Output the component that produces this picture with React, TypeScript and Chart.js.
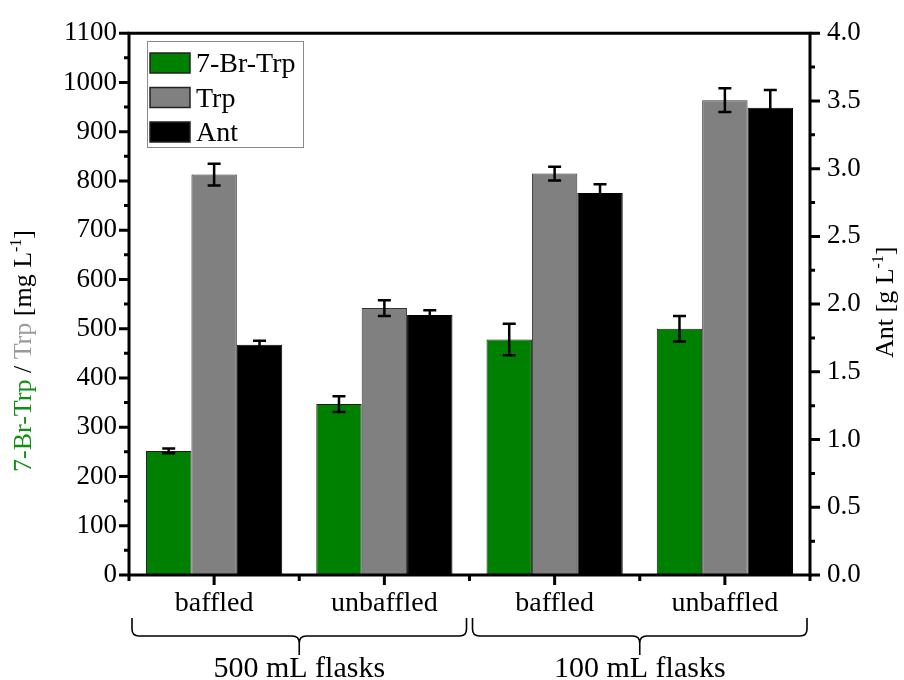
import React, { useEffect, useRef } from "react";
import { Chart, registerables } from "chart.js";

Chart.register(...registerables);

const categories = ["baffled", "unbaffled", "baffled", "unbaffled"];
const groupLabels = ["500 mL flasks", "100 mL flasks"];
const brTrp = [252, 347, 478, 500];
const brTrpErr = [5, 16, 32, 26];
const trp = [813, 542, 815, 964];
const trpErr = [22, 16, 14, 24];
const ant = [1.7, 1.92, 2.82, 3.45];
const antErr = [0.03, 0.035, 0.065, 0.13];
const leftMax = 1100;
const leftStep = 100;
const rightMax = 4;
const rightStep = 0.5;

const FONT = "'Liberation Serif', 'Times New Roman', serif";
const GREEN = "#008000";
const GRAY = "#808080";
const BLACK = "#000000";

const errors = [brTrpErr, trpErr, antErr];

const errorBarPlugin = {
  id: "errorBars",
  afterDatasetsDraw(chart: any) {
    const ctx = chart.ctx;
    ctx.save();
    ctx.strokeStyle = "#000";
    ctx.lineWidth = 2.5;
    chart.data.datasets.forEach((ds: any, di: number) => {
      const meta = chart.getDatasetMeta(di);
      const scale = chart.scales[ds.yAxisID];
      meta.data.forEach((bar: any, i: number) => {
        const v = ds.data[i];
        const e = errors[di][i];
        const yt = scale.getPixelForValue(v + e);
        const yb = scale.getPixelForValue(v - e);
        const x = bar.x;
        ctx.beginPath();
        ctx.moveTo(x, yt);
        ctx.lineTo(x, yb);
        ctx.moveTo(x - 6.5, yt);
        ctx.lineTo(x + 6.5, yt);
        ctx.moveTo(x - 6.5, yb);
        ctx.lineTo(x + 6.5, yb);
        ctx.stroke();
      });
    });
    ctx.restore();
  },
};

function drawRich(ctx: any, parts: any[], x0: number, y0: number, baseSize: number) {
  let x = x0;
  parts.forEach((p) => {
    const size = p.sup ? Math.round(baseSize * 0.6) : baseSize;
    ctx.font = `${size}px ${FONT}`;
    ctx.fillStyle = p.color || "#000";
    ctx.fillText(p.t, x, p.sup ? y0 - baseSize * 0.38 : y0);
    x += ctx.measureText(p.t).width;
  });
}

const decorPlugin = {
  id: "decor",
  afterDraw(chart: any) {
    const ctx = chart.ctx;
    const { left, right, top, bottom } = chart.chartArea;
    const yL = chart.scales.y;
    const yR = chart.scales.y1;
    const xs = chart.scales.x;
    ctx.save();
    ctx.strokeStyle = "#000";
    ctx.lineCap = "butt";
    // frame
    ctx.lineWidth = 3;
    ctx.beginPath();
    ctx.moveTo(left, top);
    ctx.lineTo(right, top);
    ctx.moveTo(left, top - 1.5);
    ctx.lineTo(left, bottom + 1.5);
    ctx.moveTo(right, top - 1.5);
    ctx.lineTo(right, bottom + 1.5);
    ctx.moveTo(left - 1.5, bottom);
    ctx.lineTo(right + 1.5, bottom);
    ctx.stroke();
    // ticks
    ctx.lineWidth = 3;
    ctx.beginPath();
    for (let v = 0; v <= leftMax + 0.001; v += leftStep / 2) {
      const y = yL.getPixelForValue(v);
      const major = Math.abs(v / leftStep - Math.round(v / leftStep)) < 1e-6;
      ctx.moveTo(left, y);
      ctx.lineTo(left - (major ? 10 : 5), y);
    }
    for (let v = 0; v <= rightMax + 0.0001; v += rightStep / 2) {
      const y = yR.getPixelForValue(v);
      const major = Math.abs(v / rightStep - Math.round(v / rightStep)) < 1e-6;
      ctx.moveTo(right, y);
      ctx.lineTo(right + (major ? 10 : 5), y);
    }
    const n = categories.length;
    const cw = (right - left) / n;
    for (let i = 0; i < n; i++) {
      const x = xs.getPixelForValue(i);
      ctx.moveTo(x, bottom);
      ctx.lineTo(x, bottom + 10);
    }
    for (let k = 0; k <= n; k++) {
      const x = left + k * cw;
      ctx.moveTo(x, bottom);
      ctx.lineTo(x, bottom + 6);
    }
    ctx.stroke();

    // braces
    ctx.lineWidth = 1.6;
    const yTop = 618;
    const yH = 636;
    const yStem = 655;
    const r = 7;
    for (let g = 0; g < groupLabels.length; g++) {
      const x0 = left + g * 2 * cw + 3;
      const x1 = left + (g + 1) * 2 * cw - 3;
      const xc = (x0 + x1) / 2;
      ctx.beginPath();
      ctx.moveTo(x0, yTop);
      ctx.lineTo(x0, yH - r);
      ctx.quadraticCurveTo(x0, yH, x0 + r, yH);
      ctx.lineTo(xc - r, yH);
      ctx.quadraticCurveTo(xc, yH, xc, yH + r);
      ctx.lineTo(xc, yStem);
      ctx.moveTo(x1, yTop);
      ctx.lineTo(x1, yH - r);
      ctx.quadraticCurveTo(x1, yH, x1 - r, yH);
      ctx.lineTo(xc + r, yH);
      ctx.quadraticCurveTo(xc, yH, xc, yH + r);
      ctx.stroke();
      ctx.font = `30px ${FONT}`;
      ctx.fillStyle = "#000";
      ctx.textAlign = "center";
      ctx.textBaseline = "alphabetic";
      ctx.fillText(groupLabels[g], xc, 677);
    }

    // legend
    ctx.textAlign = "left";
    ctx.lineWidth = 1;
    ctx.strokeStyle = "#8a8a8a";
    ctx.strokeRect(147.5, 41.5, 156, 106);
    chart.data.datasets.forEach((ds: any, i: number) => {
      const y = 53 + i * 34.5;
      ctx.fillStyle = ds.backgroundColor;
      ctx.fillRect(150, y, 40, 20);
      ctx.strokeStyle = "#222";
      ctx.lineWidth = 1.5;
      ctx.strokeRect(150, y, 40, 20);
      ctx.fillStyle = "#000";
      ctx.font = `28px ${FONT}`;
      ctx.textBaseline = "alphabetic";
      ctx.fillText(ds.label, 196, y + 19);
    });

    // left axis title
    ctx.save();
    ctx.translate(31, 472);
    ctx.rotate(-Math.PI / 2);
    ctx.textBaseline = "alphabetic";
    ctx.textAlign = "left";
    drawRich(
      ctx,
      [
        { t: "7-Br-Trp", color: "#0f8f0f" },
        { t: " / " },
        { t: "Trp", color: "#9a9a9a" },
        { t: " [mg L" },
        { t: "-1", sup: true },
        { t: "]" },
      ],
      0,
      0,
      26
    );
    ctx.restore();

    // right axis title
    ctx.save();
    ctx.translate(893, 358);
    ctx.rotate(-Math.PI / 2);
    ctx.textBaseline = "alphabetic";
    ctx.textAlign = "left";
    drawRich(ctx, [{ t: "Ant [g L" }, { t: "-1", sup: true }, { t: "]" }], 0, 0, 26);
    ctx.restore();

    ctx.restore();
  },
};

export default function App() {
  const ref = useRef<HTMLCanvasElement | null>(null);
  useEffect(() => {
    if (!ref.current) return;
    const chart = new Chart(ref.current, {
      type: "bar",
      data: {
        labels: categories,
        datasets: [
          {
            label: "7-Br-Trp",
            data: brTrp,
            backgroundColor: GREEN,
            borderColor: "#1c1c1c",
            borderWidth: 1,
            yAxisID: "y",
          },
          {
            label: "Trp",
            data: trp,
            backgroundColor: GRAY,
            borderColor: "#333",
            borderWidth: 1,
            yAxisID: "y",
          },
          {
            label: "Ant",
            data: ant,
            backgroundColor: BLACK,
            borderColor: "#000",
            borderWidth: 1,
            yAxisID: "y1",
          },
        ] as any,
      },
      options: {
        responsive: false,
        animation: false,
        events: [],
        layout: { padding: { top: 27, left: 0, right: 0, bottom: 0 } },
        datasets: { bar: { categoryPercentage: 0.8, barPercentage: 1.0 } } as any,
        plugins: { legend: { display: false }, tooltip: { enabled: false } },
        scales: {
          x: {
            grid: { display: false, drawTicks: false },
            border: { display: false },
            ticks: { font: { family: FONT, size: 28 }, color: "#000", padding: 12 },
            afterFit: (s: any) => {
              s.height = 105;
            },
          },
          y: {
            position: "left",
            min: 0,
            max: leftMax,
            grid: { display: false, drawTicks: false },
            border: { display: false },
            ticks: {
              stepSize: leftStep,
              font: { family: FONT, size: 27 },
              color: "#000",
              padding: 12,
              callback: (v: any) => String(Math.round(Number(v))),
            },
            afterFit: (s: any) => {
              s.width = 129;
            },
          },
          y1: {
            position: "right",
            min: 0,
            max: rightMax,
            grid: { display: false, drawTicks: false },
            border: { display: false },
            ticks: {
              stepSize: rightStep,
              font: { family: FONT, size: 27 },
              color: "#000",
              padding: 17,
              callback: (v: any) => Number(v).toFixed(1),
            },
            afterFit: (s: any) => {
              s.width = 94;
            },
          },
        },
      } as any,
      plugins: [errorBarPlugin, decorPlugin],
    });
    return () => chart.destroy();
  }, []);
  return (
    <div style={{ position: "absolute", left: 0, top: 0, width: 904, height: 680, background: "#fff" }}>
      <canvas ref={ref} width={904} height={680} style={{ display: "block" }} />
    </div>
  );
}
